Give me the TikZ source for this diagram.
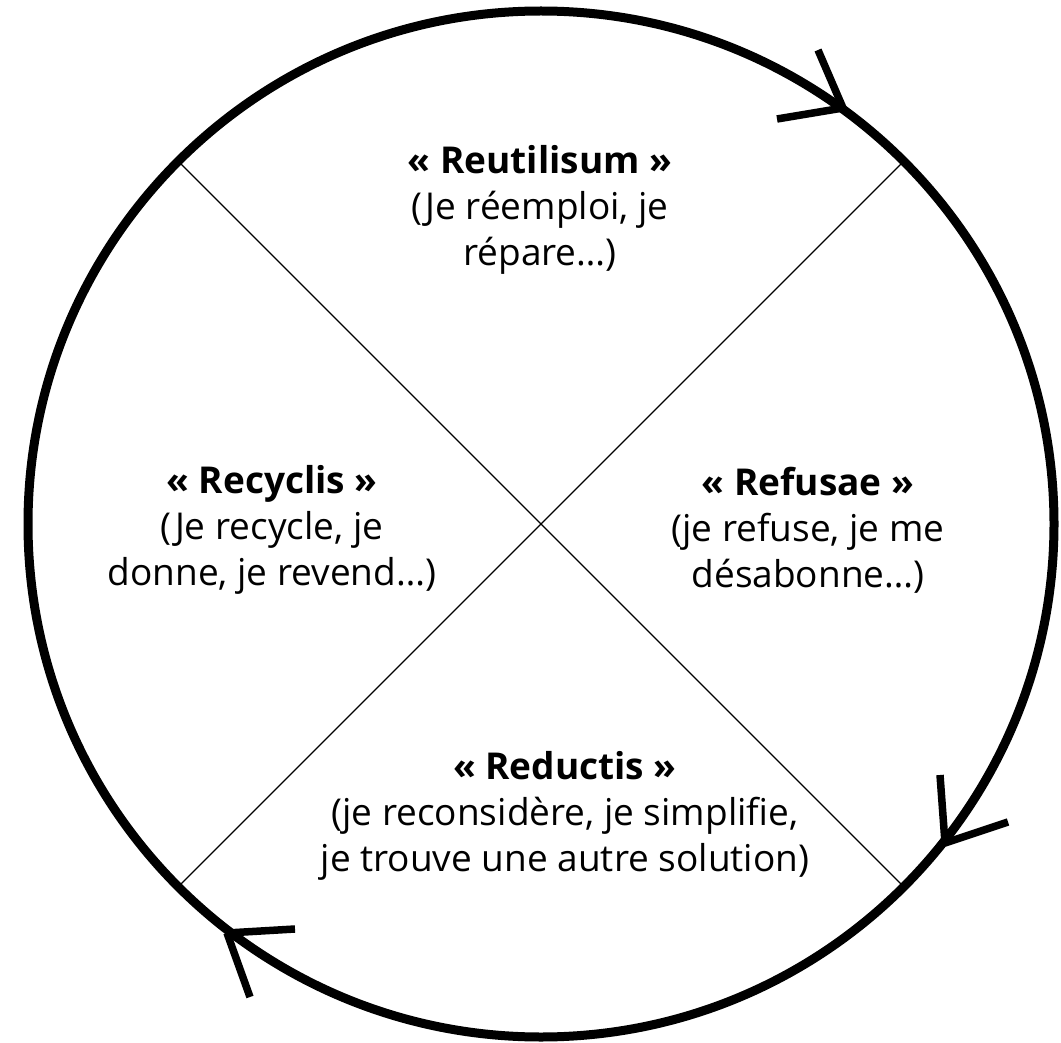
\documentclass[tikz,border=0pt]{standalone}
\usepackage{fontspec}
\setmainfont{Open Sans}
\usetikzlibrary{calc}
\begin{document}
\begin{tikzpicture}[x=1pt,y=-1pt,
  lbl/.style={align=center, font=\fontsize{37}{46}\selectfont, inner sep=0pt},
  rim/.style={line width=9pt},
  arm/.style={line width=7.5pt},
  divider/.style={line width=1.3pt}]
\useasboundingbox (0,0) rectangle (1061,1043);
\coordinate (c) at (541,524);
\draw[rim] (c) circle[radius=513pt];
\coordinate (p45) at ($(c)+(45:513pt)$);
\coordinate (p135) at ($(c)+(135:513pt)$);
\coordinate (p225) at ($(c)+(225:513pt)$);
\coordinate (p315) at ($(c)+(315:513pt)$);
\draw[divider] (p135) -- (p315);
\draw[divider] (p45) -- (p225);
% arrowheads
\coordinate (t1) at (843,108); \coordinate (l1) at (818,50); \coordinate (r1) at (777,119);
\coordinate (t2) at (945,843); \coordinate (l2) at (940,775); \coordinate (r2) at (1008,822);
\coordinate (t3) at (227,933); \coordinate (l3) at (295,929); \coordinate (r3) at (250,997);
\draw[arm] (t1) -- (l1); \draw[arm] (t1) -- (r1);
\draw[arm] (t2) -- (l2); \draw[arm] (t2) -- (r2);
\draw[arm] (t3) -- (l3); \draw[arm] (t3) -- (r3);
% labels
\node[lbl] (reu) at (540,210) {\textbf{« Reutilisum »}\\(Je réemploi, je\\répare…)};
\node[lbl] (ref) at (808,530) {\textbf{« Refusae »}\\(je refuse, je me\\désabonne…)};
\node[lbl] (rec) at (272,530) {\textbf{« Recyclis »}\\(Je recycle, je\\donne, je revend…)};
\node[lbl] (red) at (565,816) {\textbf{« Reductis »}\\(je reconsidère, je simplifie,\\je trouve une autre solution)};
\end{tikzpicture}
\end{document}
